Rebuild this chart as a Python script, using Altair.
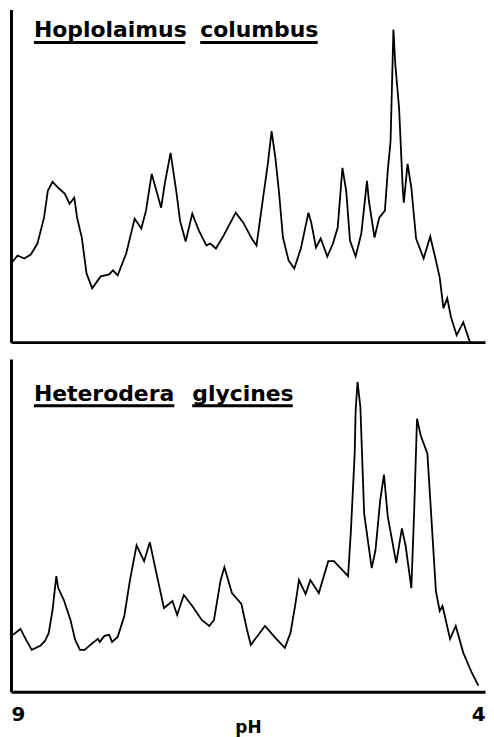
import altair as alt
import pandas as pd

# Top panel: Hoplolaimus columbus (pH, relative height)
top_ph = [9.00, 8.94, 8.87, 8.80, 8.73, 8.66, 8.62, 8.57, 8.51, 8.44, 8.39, 8.34, 8.31, 8.26,
          8.21, 8.15, 8.06, 7.97, 7.93, 7.88, 7.79, 7.70, 7.63, 7.58, 7.52, 7.42, 7.38, 7.32,
          7.26, 7.22, 7.16, 7.09, 7.02, 6.94, 6.90, 6.84, 6.77, 6.63, 6.55, 6.46, 6.41, 6.34,
          6.29, 6.25, 6.21, 6.17, 6.13, 6.07, 6.01, 5.94, 5.86, 5.83, 5.78, 5.73, 5.66, 5.60,
          5.55, 5.50, 5.46, 5.42, 5.36, 5.30, 5.27, 5.24, 5.22, 5.16, 5.11, 5.05, 5.02, 4.99,
          4.96, 4.94, 4.90, 4.86, 4.85, 4.81, 4.77, 4.72, 4.64, 4.57, 4.51, 4.47, 4.43, 4.39,
          4.35, 4.29, 4.22, 4.15]
top_val = [80, 87, 84, 88, 99, 125, 152, 161, 155, 149, 139, 145, 125, 105,
           69, 54, 66, 68, 72, 67, 89, 124, 114, 132, 169, 135, 160, 190,
           152, 122, 101, 129, 112, 97, 99, 94, 105, 130, 120, 104, 97, 145,
           179, 212, 185, 149, 105, 82, 74, 94, 130, 120, 95, 104, 86, 99,
           115, 175, 152, 102, 86, 109, 135, 162, 142, 105, 125, 132, 172, 202,
           314, 279, 235, 152, 140, 179, 155, 104, 84, 106, 82, 65, 34, 44,
           25, 7, 20, 0]

# Bottom panel: Heterodera glycines
bot_ph = [8.99, 8.91, 8.85, 8.79, 8.70, 8.65, 8.61, 8.57, 8.53, 8.51, 8.45, 8.38, 8.33, 8.28,
          8.23, 8.17, 8.09, 8.07, 8.02, 7.97, 7.94, 7.88, 7.81, 7.75, 7.68, 7.60, 7.54, 7.47,
          7.39, 7.30, 7.25, 7.18, 7.09, 6.99, 6.91, 6.86, 6.79, 6.75, 6.67, 6.57, 6.51, 6.47,
          6.32, 6.21, 6.11, 6.05, 6.00, 5.96, 5.89, 5.84, 5.75, 5.65, 5.59, 5.51, 5.44, 5.41,
          5.37, 5.36, 5.34, 5.31, 5.27, 5.19, 5.15, 5.10, 5.06, 5.02, 4.93, 4.87, 4.83, 4.77,
          4.74, 4.71, 4.67, 4.60, 4.51, 4.47, 4.44, 4.36, 4.30, 4.22, 4.13, 4.06]
bot_val = [57, 63, 52, 42, 46, 51, 59, 82, 116, 104, 92, 72, 52, 42,
           42, 47, 53, 50, 56, 57, 50, 55, 76, 112, 147, 131, 150, 119,
           84, 91, 77, 97, 86, 72, 66, 72, 112, 125, 99, 88, 62, 47,
           66, 54, 44, 59, 87, 112, 98, 112, 99, 131, 131, 123, 116, 162,
           239, 282, 311, 286, 179, 124, 142, 192, 218, 176, 129, 164, 146, 104,
           182, 274, 257, 239, 101, 81, 86, 53, 66, 39, 19, 6]

top_words = ["Hoplolaimus", "columbus"]
bot_words = ["Heterodera", "glycines"]
x_labels = [9, 4]

W, H = 476, 334
FONT = "DejaVu Sans"
XDOM = [9.01, 3.99]

def panel(ph, val, words, word_x, ul_x2, text_y, ul_y, bottom):
    df = pd.DataFrame({"pH": ph, "v": val})
    if bottom:
        xaxis = alt.Axis(values=x_labels, ticks=False, tickSize=0, grid=False, labelFlush=False,
                         labelAlign={"condition": {"test": "datum.value == 9", "value": "left"},
                                     "value": "right"},
                         labelOffset={"condition": {"test": "datum.value == 9", "value": -1},
                                      "value": 1},
                         labelFontSize=20, labelFontWeight="bold", labelFont=FONT,
                         labelColor="black", labelPadding=13, title="pH",
                         titleFontSize=17, titleFontWeight="bold", titleFont=FONT,
                         titleColor="black", titleBaseline="alphabetic", titleY=41,
                         domainColor="black", domainWidth=3, minExtent=0)
    else:
        xaxis = alt.Axis(labels=False, ticks=False, tickSize=0, grid=False, title=None,
                         domainColor="black", domainWidth=3, minExtent=0)
    yaxis = alt.Axis(labels=False, ticks=False, tickSize=0, grid=False, title=None,
                     domainColor="black", domainWidth=3, minExtent=0)
    line = alt.Chart(df).mark_line(color="black", strokeWidth=1.8).encode(
        x=alt.X("pH:Q", scale=alt.Scale(domain=XDOM, nice=False, zero=False), axis=xaxis),
        y=alt.Y("v:Q", scale=alt.Scale(domain=[0, H], nice=False), axis=yaxis),
    )
    layers = [line]
    for w, x0, x1 in zip(words, word_x, ul_x2):
        d = pd.DataFrame({"t": [w]})
        layers.append(alt.Chart(d).mark_text(
            align="left", baseline="alphabetic", font=FONT, fontSize=22,
            fontWeight="bold", color="black").encode(
            text="t:N", x=alt.value(x0), y=alt.value(text_y)))
        layers.append(alt.Chart(d).mark_rule(color="black", strokeWidth=3).encode(
            x=alt.value(x0), x2=alt.value(x1), y=alt.value(ul_y)))
    return alt.layer(*layers).properties(width=W, height=H)

top = panel(top_ph, top_val, top_words, [23, 190], [175, 308], 28, 33, False)
bot = panel(bot_ph, bot_val, bot_words, [23, 182], [164, 283], 42, 47, True)

chart = alt.vconcat(top, bot, spacing=13).properties(
    padding=0,
    background="white",
).configure_view(stroke=None)

chart.save("out.html", embed_options={"renderer": "svg", "actions": False})
